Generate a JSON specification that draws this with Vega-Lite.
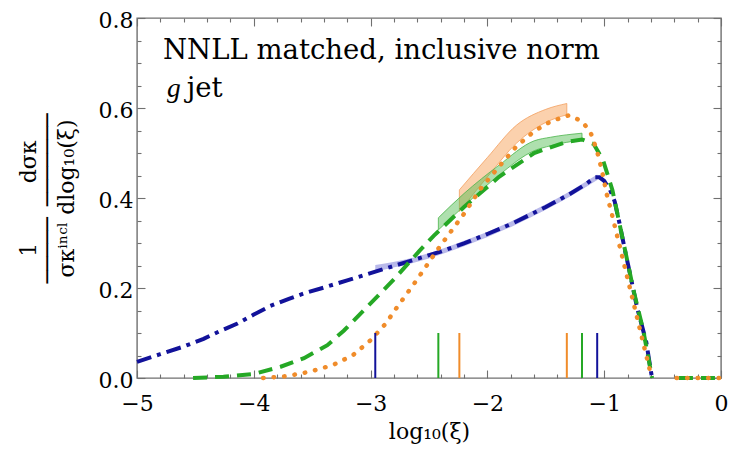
{
  "$schema": "https://vega.github.io/schema/vega-lite/v6.json",
  "width": 584,
  "height": 360,
  "autosize": {"type": "none"},
  "padding": {"left": 137, "top": 18, "right": 29, "bottom": 79},
  "config": {
    "view": {"stroke": "#707070", "strokeWidth": 1.4},
    "font": "DejaVu Serif",
    "axis": {"labelFont": "DejaVu Serif", "titleFont": "DejaVu Serif", "labelColor": "#000", "titleColor": "#000", "titleFontWeight": "normal", "grid": false, "tickColor": "#707070", "tickWidth": 1.1, "domain": false, "labelFlush": false, "labelOverlap": false}
  },
  "datasets": {
    "lines": [
      {"s": "blue", "g": 1, "x": -5.0, "y": 0.036}, {"s": "blue", "g": 1, "x": -4.8, "y": 0.053}, {"s": "blue", "g": 1, "x": -4.6, "y": 0.070}, {"s": "blue", "g": 1, "x": -4.43, "y": 0.087}, {"s": "blue", "g": 1, "x": -4.3, "y": 0.103}, {"s": "blue", "g": 1, "x": -4.14, "y": 0.121}, {"s": "blue", "g": 1, "x": -4.0, "y": 0.141}, {"s": "blue", "g": 1, "x": -3.86, "y": 0.160}, {"s": "blue", "g": 1, "x": -3.7, "y": 0.176}, {"s": "blue", "g": 1, "x": -3.57, "y": 0.188}, {"s": "blue", "g": 1, "x": -3.4, "y": 0.201}, {"s": "blue", "g": 1, "x": -3.2, "y": 0.217}, {"s": "blue", "g": 1, "x": -3.0, "y": 0.233}, {"s": "blue", "g": 1, "x": -2.8, "y": 0.249}, {"s": "blue", "g": 1, "x": -2.6, "y": 0.265}, {"s": "blue", "g": 1, "x": -2.4, "y": 0.281}, {"s": "blue", "g": 1, "x": -2.2, "y": 0.299}, {"s": "blue", "g": 1, "x": -2.0, "y": 0.320}, {"s": "blue", "g": 1, "x": -1.78, "y": 0.344}, {"s": "blue", "g": 1, "x": -1.5, "y": 0.380}, {"s": "blue", "g": 1, "x": -1.3, "y": 0.408}, {"s": "blue", "g": 1, "x": -1.15, "y": 0.432}, {"s": "blue", "g": 1, "x": -1.08, "y": 0.446}, {"s": "blue", "g": 1, "x": -1.04, "y": 0.446}, {"s": "blue", "g": 1, "x": -1.0, "y": 0.438}, {"s": "blue", "g": 1, "x": -0.95, "y": 0.418}, {"s": "blue", "g": 1, "x": -0.91, "y": 0.392}, {"s": "blue", "g": 1, "x": -0.87, "y": 0.345}, {"s": "blue", "g": 1, "x": -0.82, "y": 0.281}, {"s": "blue", "g": 1, "x": -0.78, "y": 0.233}, {"s": "blue", "g": 1, "x": -0.72, "y": 0.158}, {"s": "blue", "g": 1, "x": -0.64, "y": 0.080}, {"s": "blue", "g": 1, "x": -0.6, "y": 0.015}, {"s": "blue", "g": 1, "x": -0.59, "y": 0.0},
      {"s": "green", "g": 1, "x": -4.52, "y": 0.0}, {"s": "green", "g": 1, "x": -4.26, "y": 0.003}, {"s": "green", "g": 1, "x": -4.0, "y": 0.009}, {"s": "green", "g": 1, "x": -3.77, "y": 0.025}, {"s": "green", "g": 1, "x": -3.57, "y": 0.044}, {"s": "green", "g": 1, "x": -3.37, "y": 0.073}, {"s": "green", "g": 1, "x": -3.23, "y": 0.105}, {"s": "green", "g": 1, "x": -3.06, "y": 0.150}, {"s": "green", "g": 1, "x": -2.89, "y": 0.195}, {"s": "green", "g": 1, "x": -2.78, "y": 0.225}, {"s": "green", "g": 1, "x": -2.58, "y": 0.283}, {"s": "green", "g": 1, "x": -2.46, "y": 0.316}, {"s": "green", "g": 1, "x": -2.2, "y": 0.380}, {"s": "green", "g": 1, "x": -1.9, "y": 0.447}, {"s": "green", "g": 1, "x": -1.6, "y": 0.500}, {"s": "green", "g": 1, "x": -1.32, "y": 0.525}, {"s": "green", "g": 1, "x": -1.19, "y": 0.530}, {"s": "green", "g": 1, "x": -1.09, "y": 0.520}, {"s": "green", "g": 1, "x": -1.01, "y": 0.484}, {"s": "green", "g": 1, "x": -0.93, "y": 0.418}, {"s": "green", "g": 1, "x": -0.87, "y": 0.344}, {"s": "green", "g": 1, "x": -0.75, "y": 0.196}, {"s": "green", "g": 1, "x": -0.665, "y": 0.105}, {"s": "green", "g": 1, "x": -0.59, "y": 0.0},
      {"s": "green", "g": 2, "x": -0.36, "y": 0.0}, {"s": "green", "g": 2, "x": 0.0, "y": 0.0},
      {"s": "orange", "g": 1, "x": -3.92, "y": 0.0}, {"s": "orange", "g": 1, "x": -3.72, "y": 0.004}, {"s": "orange", "g": 1, "x": -3.52, "y": 0.014}, {"s": "orange", "g": 1, "x": -3.32, "y": 0.029}, {"s": "orange", "g": 1, "x": -3.15, "y": 0.051}, {"s": "orange", "g": 1, "x": -3.0, "y": 0.084}, {"s": "orange", "g": 1, "x": -2.87, "y": 0.121}, {"s": "orange", "g": 1, "x": -2.78, "y": 0.155}, {"s": "orange", "g": 1, "x": -2.61, "y": 0.216}, {"s": "orange", "g": 1, "x": -2.43, "y": 0.284}, {"s": "orange", "g": 1, "x": -2.3, "y": 0.330}, {"s": "orange", "g": 1, "x": -2.2, "y": 0.365}, {"s": "orange", "g": 1, "x": -2.06, "y": 0.420}, {"s": "orange", "g": 1, "x": -1.9, "y": 0.470}, {"s": "orange", "g": 1, "x": -1.75, "y": 0.515}, {"s": "orange", "g": 1, "x": -1.6, "y": 0.548}, {"s": "orange", "g": 1, "x": -1.46, "y": 0.570}, {"s": "orange", "g": 1, "x": -1.3, "y": 0.584}, {"s": "orange", "g": 1, "x": -1.19, "y": 0.570}, {"s": "orange", "g": 1, "x": -1.12, "y": 0.548}, {"s": "orange", "g": 1, "x": -1.064, "y": 0.507}, {"s": "orange", "g": 1, "x": -1.02, "y": 0.462}, {"s": "orange", "g": 1, "x": -0.98, "y": 0.410}, {"s": "orange", "g": 1, "x": -0.936, "y": 0.366}, {"s": "orange", "g": 1, "x": -0.908, "y": 0.336}, {"s": "orange", "g": 1, "x": -0.75, "y": 0.168}, {"s": "orange", "g": 1, "x": -0.593, "y": 0.0},
      {"s": "orange", "g": 2, "x": -0.38, "y": 0.0}, {"s": "orange", "g": 2, "x": 0.0, "y": 0.0}
    ],
    "bands": [
      {"s": "orange", "x": -2.24, "lo": 0.370, "hi": 0.418}, {"s": "orange", "x": -2.0, "lo": 0.447, "hi": 0.490}, {"s": "orange", "x": -1.75, "lo": 0.522, "hi": 0.562}, {"s": "orange", "x": -1.5, "lo": 0.568, "hi": 0.597}, {"s": "orange", "x": -1.32, "lo": 0.585, "hi": 0.610},
      {"s": "green", "x": -2.42, "lo": 0.329, "hi": 0.356}, {"s": "green", "x": -2.2, "lo": 0.382, "hi": 0.410}, {"s": "green", "x": -1.9, "lo": 0.451, "hi": 0.473}, {"s": "green", "x": -1.6, "lo": 0.505, "hi": 0.527}, {"s": "green", "x": -1.46, "lo": 0.516, "hi": 0.535}, {"s": "green", "x": -1.19, "lo": 0.529, "hi": 0.544},
      {"s": "blue", "x": -2.96, "lo": 0.237, "hi": 0.251}, {"s": "blue", "x": -2.63, "lo": 0.256, "hi": 0.268}, {"s": "blue", "x": -2.2, "lo": 0.293, "hi": 0.305}, {"s": "blue", "x": -1.78, "lo": 0.338, "hi": 0.350}, {"s": "blue", "x": -1.5, "lo": 0.374, "hi": 0.386}, {"s": "blue", "x": -1.3, "lo": 0.402, "hi": 0.414}, {"s": "blue", "x": -1.06, "lo": 0.440, "hi": 0.452}
    ],
    "marks": [
      {"s": "blue", "x": -2.96}, {"s": "green", "x": -2.42}, {"s": "orange", "x": -2.24},
      {"s": "orange", "x": -1.32}, {"s": "green", "x": -1.19}, {"s": "blue", "x": -1.06}
    ]
  },
  "resolve": {"axis": {"x": "independent", "y": "independent"}},
  "layer": [
    {
      "data": {"name": "bands"},
      "transform": [{"filter": "datum.s === 'orange'"}],
      "mark": {"type": "area", "fill": "#f7a35c", "fillOpacity": 0.5, "stroke": "#f2a060", "strokeWidth": 0.8, "interpolate": "monotone"},
      "encoding": {
        "x": {"field": "x", "type": "quantitative", "scale": {"domain": [-5, 0], "nice": false, "zero": false},
          "axis": {"orient": "bottom", "values": [-5, -4, -3, -2, -1, 0], "ticks": false, "labelFontSize": 22, "labelPadding": 15, "title": "log₁₀(ξ)", "titleFontSize": 22, "titlePadding": 7}},
        "y": {"field": "lo", "type": "quantitative", "scale": {"domain": [0, 0.8], "nice": false},
          "axis": {"orient": "left", "values": [0, 0.2, 0.4, 0.6, 0.8], "format": ".1f", "ticks": false, "labelFontSize": 22, "labelPadding": 4, "labelOffset": 2,
            "title": ["1\u2003\u2003\u2002\u2009dσκ", "─────\u2002───────", "σκⁱⁿᶜˡ dlog₁₀(ξ)"], "titleFontSize": 22, "titleLineHeight": 19, "titlePadding": 20}},
        "y2": {"field": "hi"}
      }
    },
    {
      "data": {"name": "bands"},
      "transform": [{"filter": "datum.s === 'green'"}],
      "mark": {"type": "area", "fill": "#4cbb4c", "fillOpacity": 0.45, "stroke": "#4ab44a", "strokeWidth": 0.8, "interpolate": "monotone"},
      "encoding": {
        "x": {"field": "x", "type": "quantitative", "scale": {"domain": [-5, 0], "nice": false, "zero": false},
          "axis": {"orient": "bottom", "values": [-5, -4, -3, -2, -1, 0], "labels": false, "tickSize": -8, "title": null}},
        "y": {"field": "lo", "type": "quantitative", "scale": {"domain": [0, 0.8], "nice": false},
          "axis": {"orient": "left", "values": [0, 0.2, 0.4, 0.6, 0.8], "labels": false, "tickSize": -8, "title": null}},
        "y2": {"field": "hi"}
      }
    },
    {
      "data": {"name": "bands"},
      "transform": [{"filter": "datum.s === 'blue'"}],
      "mark": {"type": "area", "fill": "#8080d8", "fillOpacity": 0.55, "interpolate": "monotone"},
      "encoding": {
        "x": {"field": "x", "type": "quantitative", "scale": {"domain": [-5, 0], "nice": false, "zero": false},
          "axis": {"orient": "bottom", "values": [-4.8, -4.6, -4.4, -4.2, -3.8, -3.6, -3.4, -3.2, -2.8, -2.6, -2.4, -2.2, -1.8, -1.6, -1.4, -1.2, -0.8, -0.6, -0.4, -0.2], "labels": false, "tickSize": -4, "title": null}},
        "y": {"field": "lo", "type": "quantitative", "scale": {"domain": [0, 0.8], "nice": false},
          "axis": {"orient": "left", "values": [0.05, 0.1, 0.15, 0.25, 0.3, 0.35, 0.45, 0.5, 0.55, 0.65, 0.7, 0.75], "labels": false, "tickSize": -4, "title": null}},
        "y2": {"field": "hi"}
      }
    },
    {
      "data": {"name": "lines"},
      "transform": [{"filter": "datum.s === 'blue'"}],
      "mark": {"type": "line", "color": "#12129a", "strokeWidth": 4, "strokeDash": [15, 6, 4, 6]},
      "encoding": {
        "x": {"field": "x", "type": "quantitative", "scale": {"domain": [-5, 0], "nice": false, "zero": false},
          "axis": {"orient": "top", "values": [-5, -4, -3, -2, -1, 0], "labels": false, "tickSize": -8, "title": null}},
        "y": {"field": "y", "type": "quantitative", "scale": {"domain": [0, 0.8], "nice": false},
          "axis": {"orient": "right", "values": [0, 0.2, 0.4, 0.6, 0.8], "labels": false, "tickSize": -8, "title": null}},
        "detail": {"field": "g", "type": "nominal"}
      }
    },
    {
      "data": {"name": "lines"},
      "transform": [{"filter": "datum.s === 'green'"}],
      "mark": {"type": "line", "color": "#25a825", "strokeWidth": 4, "strokeDash": [14, 8]},
      "encoding": {
        "x": {"field": "x", "type": "quantitative", "scale": {"domain": [-5, 0], "nice": false, "zero": false},
          "axis": {"orient": "top", "values": [-4.8, -4.6, -4.4, -4.2, -3.8, -3.6, -3.4, -3.2, -2.8, -2.6, -2.4, -2.2, -1.8, -1.6, -1.4, -1.2, -0.8, -0.6, -0.4, -0.2], "labels": false, "tickSize": -4, "title": null}},
        "y": {"field": "y", "type": "quantitative", "scale": {"domain": [0, 0.8], "nice": false},
          "axis": {"orient": "right", "values": [0.05, 0.1, 0.15, 0.25, 0.3, 0.35, 0.45, 0.5, 0.55, 0.65, 0.7, 0.75], "labels": false, "tickSize": -4, "title": null}},
        "detail": {"field": "g", "type": "nominal"}
      }
    },
    {
      "data": {"name": "lines"},
      "transform": [{"filter": "datum.s === 'orange'"}],
      "mark": {"type": "line", "color": "#f08c2a", "strokeWidth": 4.5, "strokeDash": [0.5, 10], "strokeCap": "round"},
      "encoding": {
        "x": {"field": "x", "type": "quantitative", "axis": null},
        "y": {"field": "y", "type": "quantitative", "axis": null},
        "detail": {"field": "g", "type": "nominal"}
      }
    },
    {
      "data": {"name": "marks"},
      "mark": {"type": "rule", "strokeWidth": 2},
      "encoding": {
        "x": {"field": "x", "type": "quantitative", "axis": null},
        "y": {"datum": 0, "type": "quantitative", "axis": null},
        "y2": {"datum": 0.1},
        "color": {"field": "s", "type": "nominal", "scale": {"domain": ["blue", "green", "orange"], "range": ["#12129a", "#25a825", "#f08c2a"]}, "legend": null}
      }
    },
    {
      "data": {"values": [{"label": "NNLL matched, inclusive norm"}]},
      "mark": {"type": "text", "align": "left", "baseline": "alphabetic", "fontSize": 27.5, "font": "DejaVu Serif", "color": "#000"},
      "encoding": {
        "x": {"datum": -4.777, "type": "quantitative", "axis": null},
        "y": {"datum": 0.709, "type": "quantitative", "axis": null},
        "text": {"field": "label"}
      }
    },
    {
      "data": {"values": [{"label": "g"}]},
      "mark": {"type": "text", "align": "left", "baseline": "alphabetic", "fontSize": 27.5, "font": "Liberation Serif", "fontStyle": "italic", "color": "#000"},
      "encoding": {
        "x": {"datum": -4.743, "type": "quantitative", "axis": null},
        "y": {"datum": 0.624, "type": "quantitative", "axis": null},
        "text": {"field": "label"}
      }
    },
    {
      "data": {"values": [{"label": "jet"}]},
      "mark": {"type": "text", "align": "left", "baseline": "alphabetic", "fontSize": 27.5, "font": "DejaVu Serif", "color": "#000"},
      "encoding": {
        "x": {"datum": -4.575, "type": "quantitative", "axis": null},
        "y": {"datum": 0.624, "type": "quantitative", "axis": null},
        "text": {"field": "label"}
      }
    }
  ]
}
